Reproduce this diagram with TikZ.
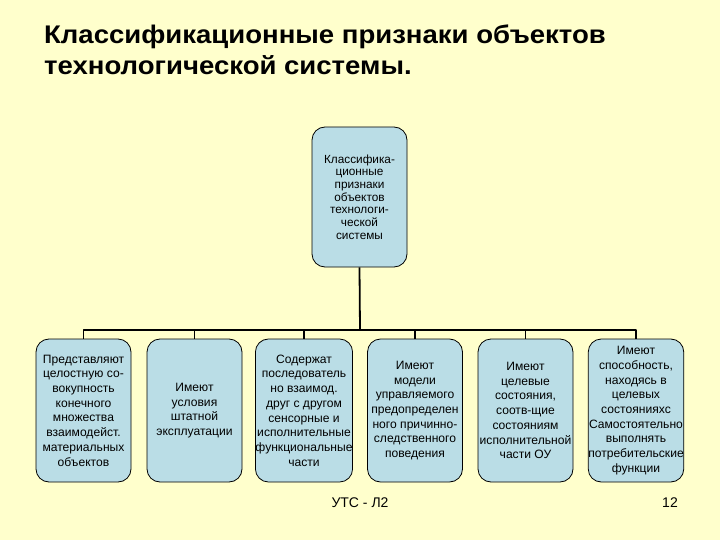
\documentclass[tikz,border=0pt]{standalone}
\usepackage{fontspec}
\setmainfont{Liberation Sans}
\newfontfamily\titlefont[FakeStretch=1.08]{Liberation Sans}
\begin{document}
\begin{tikzpicture}[x=1pt, y=-1pt, line join=round]

\definecolor{cPage}{RGB}{255,255,204}
\definecolor{cBox}{RGB}{186,221,230}

\tikzset{
  sign/.style={draw=black, line width=0.8pt, fill=cBox, rounded corners=13pt,
    minimum width=95pt, minimum height=143pt, inner sep=0pt, align=center,
    font=\fontsize{12.1}{14.7}\selectfont},
  link/.style={draw=black, line width=1.8pt}
}

%% ---------- page ----------
\fill[cPage] (0,0) rectangle (720,540);
\useasboundingbox (0,0) rectangle (720,540);

\node[anchor=base west, align=left, inner sep=0pt,
  font=\titlefont\fontsize{25.5}{31}\selectfont\bfseries] (title) at (44,75)
  {Классификационные признаки объектов\\технологической системы.};

%% ---------- root ----------
\node[sign, minimum height=140pt, font=\fontsize{11.8}{12.7}\selectfont] (root) at (359.5,197)
  {Классифика-\\ционные\\признаки\\объектов\\технологи-\\ческой\\системы};

\coordinate (bus) at (360,330);

%% ---------- six signs ----------
\foreach \i/\x/\txt in {
  1/83.5/{Представляют\\целостную со-\\вокупность\\конечного\\множества\\взаимодейст.\\материальных\\объектов},
  2/194.5/{Имеют\\условия\\штатной\\эксплуатации},
  3/304/{Содержат\\последователь\\но взаимод.\\друг с другом\\сенсорные и\\исполнительные\\функциональные\\части},
  4/415/{Имеют\\модели\\управляемого\\предопределен\\ного причинно-\\следственного\\поведения},
  5/525.5/{Имеют\\целевые\\состояния,\\соотв-щие\\состояниям\\исполнительной\\части ОУ},
  6/636/{Имеют\\способность,\\находясь в\\целевых\\состоянияхс\\Самостоятельно\\выполнять\\потребительские\\функции}} {
  \node[sign] (s\i) at (\x,410.5) {\txt};
  \draw[link] (bus) -| (s\i.north);
}

\draw[link] (root.south) -- (bus);

%% ---------- footer ----------
\node[font=\fontsize{14}{16}\selectfont] (course) at (360,503) {УТС - Л2};
\node[font=\fontsize{14}{16}\selectfont] (page) at (670,503) {12};

\end{tikzpicture}
\end{document}
